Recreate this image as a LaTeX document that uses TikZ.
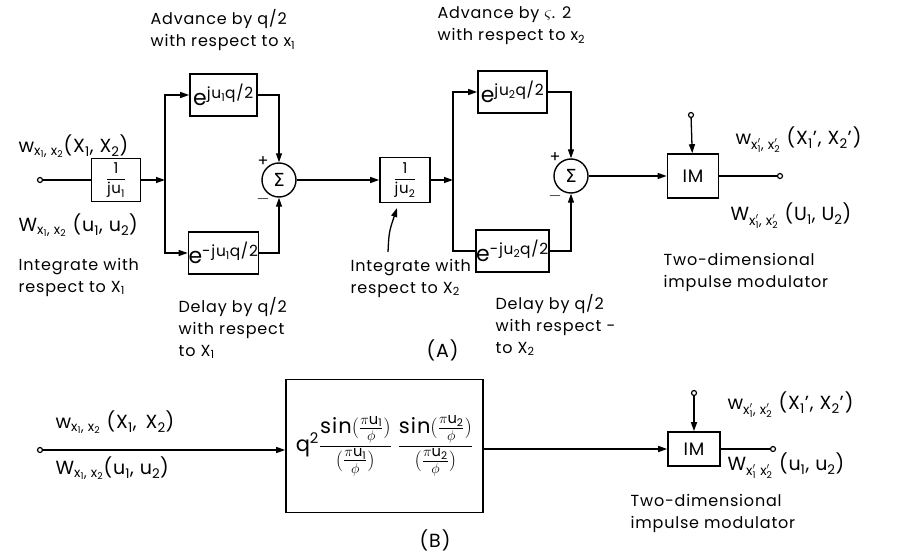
\documentclass[tikz,border=0pt]{standalone}
\usepackage{amsmath}
\usepackage{fontspec}
\setmainfont{Poppins}[LetterSpace=5]
\newfontfamily\dejavu{DejaVu Sans}
\usetikzlibrary{arrows.meta}
\newcommand\sbs[1]{\textsubscript{#1}}
\newcommand\sps[1]{\textsuperscript{#1}}
\newcommand\xq[1]{$\text{x}'_{\text{#1}}$}
\begin{document}
\begin{tikzpicture}[x=1pt,y=-1pt,
  every node/.style={font=\fontsize{16}{22}\selectfont},
  blk/.style={draw,line width=1.6pt,inner sep=0pt},
  ebox/.style={blk,minimum width=67pt,minimum height=42pt,font=\fontsize{22}{24}\selectfont},
  fbox/.style={blk,minimum width=49pt,minimum height=43pt,font=\fontsize{15}{16}\selectfont},
  imbox/.style={blk,minimum width=51pt,minimum height=40pt,font=\fontsize{18}{20}\selectfont},
  sumc/.style={draw,circle,line width=1.4pt,minimum size=34pt,inner sep=0pt,font=\fontsize{18}{20}\dejavu},
  port/.style={draw,circle,line width=1.2pt,minimum size=5pt,inner sep=0pt,fill=white},
  arr/.style={-{Triangle[length=9pt,width=6pt]}},
  lbl/.style={align=left,inner sep=0pt,anchor=west},
  flbl/.style={lbl,font=\fontsize{19}{22}\selectfont},
  sgn/.style={inner sep=0pt,font=\fontsize{16}{16}\selectfont},
  line width=1.3pt]
\useasboundingbox (0,0) rectangle (898,554);

% ---------------- Part A ----------------
\node[port] (in1) at (40,180) {};
\node[fbox] (int1) at (116,180) {$\dfrac{\text{1}}{\text{ju}_{\text{1}}}$};
\coordinate (j1) at (165,180);
\node[ebox] (adv1) at (223.5,95) {e\sps{ju\sbs{1}q/2}};
\node[ebox] (del1) at (223.5,253) {e\sps{-ju\sbs{1}q/2}};
\node[sumc] (s1) at (279,180) {Σ};
\node[sgn] (p1) at (263,162) {+};
\node[sgn] (m1) at (263,199) {$-$};
\node[fbox,minimum width=50pt,minimum height=45pt] (int2) at (405,180) {$\dfrac{\text{1}}{\text{ju}_{\text{2}}}$};
\coordinate (j2) at (453,180);
\node[ebox,minimum width=69pt] (adv2) at (512.5,92) {e\sps{ju\sbs{2}q/2}};
\node[ebox,minimum width=69pt] (del2) at (512.5,251) {e\sps{-ju\sbs{2}q/2}};
\node[sumc] (s2) at (571,176) {Σ};
\node[sgn] (p2) at (555,158) {+};
\node[sgn] (m2) at (555,196) {$-$};
\node[imbox,minimum height=44pt] (im1) at (693,176) {IM};
\node[port] (imin1) at (691,115) {};
\node[port] (out1) at (780,176) {};

\draw (in1) -- (int1);
\draw[arr] (int1) -- (j1);
\draw[arr] (j1) |- (adv1);
\draw[arr] (j1) |- (del1);
\draw[arr] (adv1) -| (s1);
\draw[arr] (del1) -| (s1);
\draw[arr] (s1) -- (int2);
\draw[arr] (int2) -- (j2);
\draw[arr] (j2) |- (adv2);
\draw (j2) |- (del2);
\draw[arr] (adv2) -| (s2);
\draw[arr] (del2) -| (s2);
\draw[arr] (s2) -- (im1);
\draw[arr] (imin1) -- (im1);
\draw (im1) -- (out1);

\coordinate (ia) at (388,252);
\coordinate (ib) at (397,208);
\draw[arr] (ia) .. controls (389,232) .. (ib);

\node[lbl] (tadv1) at (150,30) {Advance by q/2\\with respect to x\sbs{1}};
\node[lbl] (tadv2) at (437,26) {Advance by $\varsigma$. 2\\with respect to x\sbs{2}};
\node[flbl] (tw1) at (18,146) {w\sbs{x\sbs{1}, x\sbs{2}}(X\sbs{1}, X\sbs{2})};
\node[flbl] (tW1) at (18,225) {W\sbs{x\sbs{1}, x\sbs{2}} (u\sbs{1}, u\sbs{2})};
\node[lbl] (tint1) at (18,277) {Integrate with\\respect to X\sbs{1}};
\node[lbl] (tdel1) at (178,328) {Delay by q/2\\with respect\\to X\sbs{1}};
\node[lbl] (tint2) at (350,278) {Integrate with\\respect to X\sbs{2}};
\node[lbl] (tA) at (426,350) {\fontsize{19}{20}\selectfont(A)};
\node[lbl] (tdel2) at (495,325) {Delay by q/2\\with respect -\\to X\sbs{2}};
\node[lbl] (ttwo1) at (663,272) {Two-dimensional\\impulse modulator};
\node[flbl] (tw1o) at (735,140) {w\sbs{\xq{1}, \xq{2}} (X\sbs{1}', X\sbs{2}')};
\node[flbl] (tW1o) at (730,216) {W\sbs{\xq{1}, \xq{2}} (U\sbs{1}, U\sbs{2})};

% ---------------- Part B ----------------
\node[port] (in2) at (40,450) {};
\node[blk,minimum width=197pt,minimum height=133pt] (bx) at (384.5,446)
  {\fontsize{21}{24}\selectfont$\text{q}^{\text{2}}\dfrac{\text{sin}(\frac{\pi \text{u}_{\text{1}}}{\phi})}{(\frac{\pi\text{u}_{\text{1}}}{\phi})}\;\dfrac{\text{sin}(\frac{\pi\text{u}_{\text{2}}}{\phi})}{(\frac{\pi\text{u}_{\text{2}}}{\phi})}$};
\node[imbox,minimum width=52pt,minimum height=34pt] (im2) at (694,449) {IM};
\node[port] (imin2) at (694,393) {};
\node[port] (out2) at (773,449) {};

\draw[arr] (in2) -- (in2 -| bx.west);
\draw[arr] (bx.east |- im2) -- (im2);
\draw[arr] (imin2) -- (im2);
\draw (im2) -- (out2);

\node[flbl] (tw2) at (55,422) {w\sbs{x\sbs{1}, x\sbs{2}} (X\sbs{1}, \,X\sbs{2})};
\node[flbl] (tW2) at (55,468) {W\sbs{x\sbs{1}, x\sbs{2}}(u\sbs{1}, u\sbs{2})};
\node[flbl] (tw2o) at (727,405) {w\sbs{\xq{1}, \xq{2}} (X\sbs{1}', X\sbs{2}')};
\node[flbl] (tW2o) at (727,466) {W\sbs{\xq{1} \xq{2}} (u\sbs{1}, u\sbs{2})};
\node[lbl] (ttwo2) at (630,513) {Two-dimensional\\impulse modulator};
\node[lbl] (tB) at (419,540) {\fontsize{19}{20}\selectfont(B)};
\end{tikzpicture}
\end{document}
